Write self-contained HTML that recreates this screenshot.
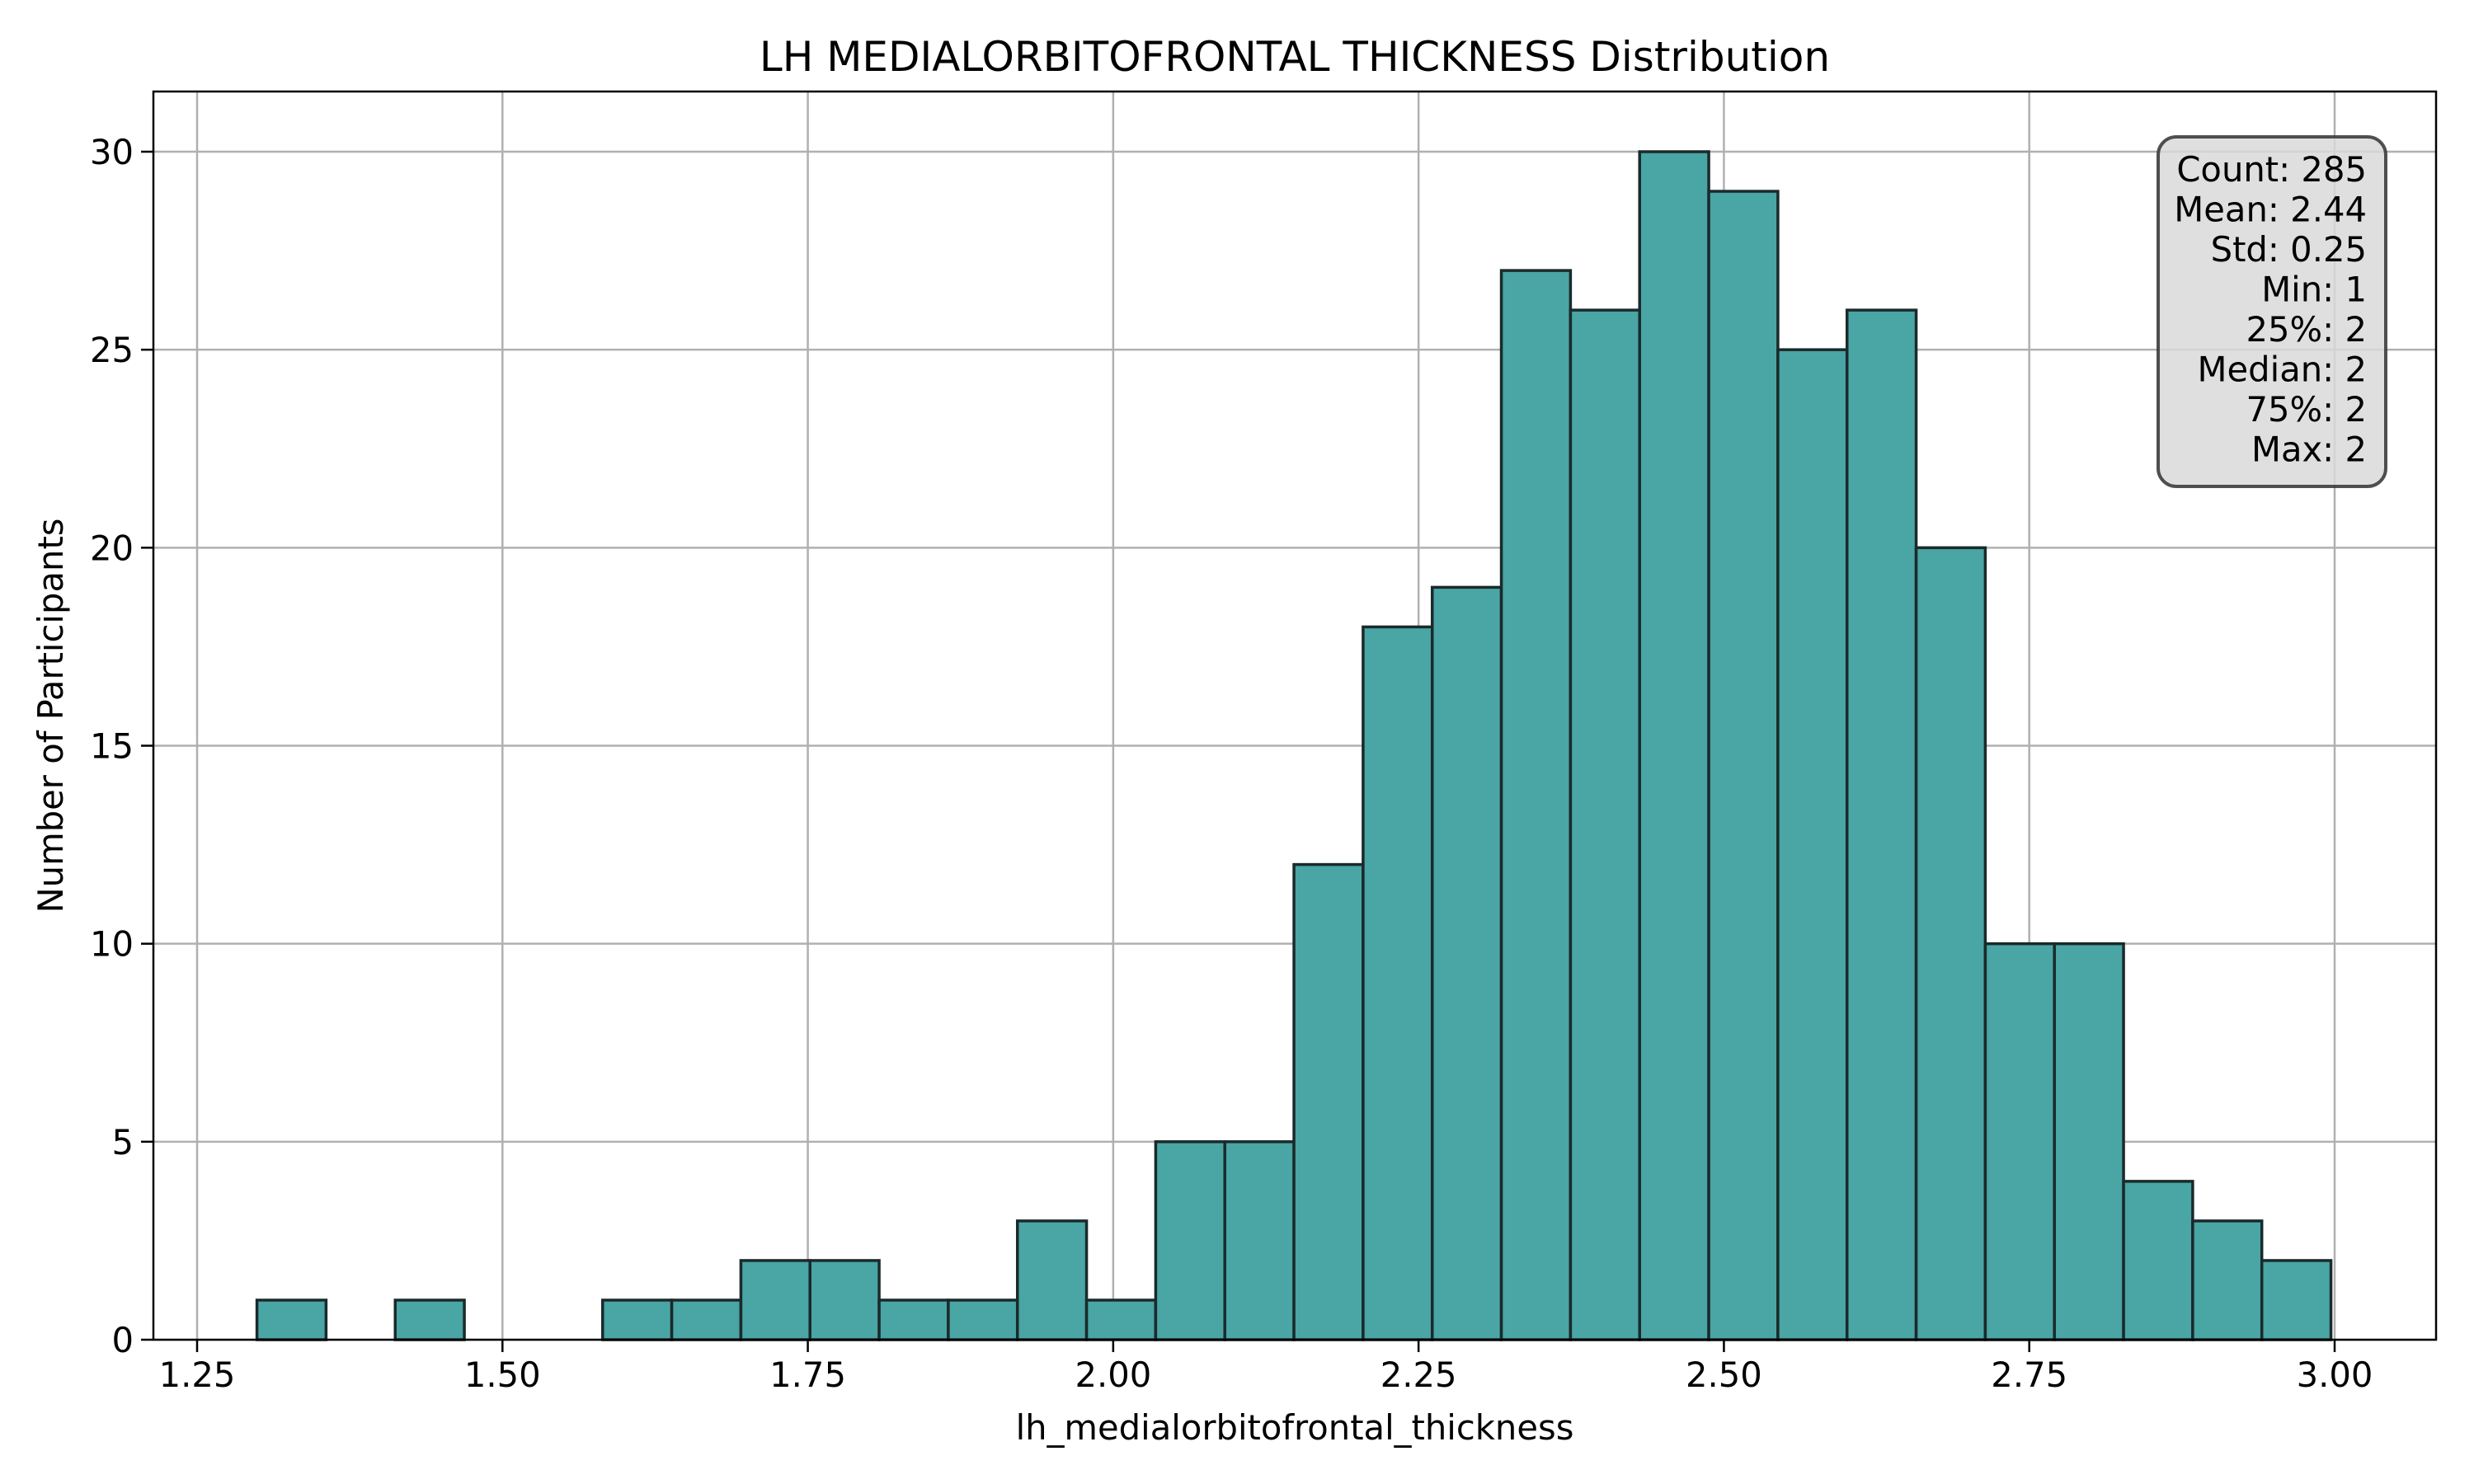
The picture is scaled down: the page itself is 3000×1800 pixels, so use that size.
<!DOCTYPE html>
<html><head><meta charset="utf-8"><style>
html,body{margin:0;padding:0;background:#fff}
svg{display:block;font-family:"DejaVu Sans","Liberation Sans",sans-serif}
</style></head><body>
<svg id="chart" width="3000" height="1800" viewBox="0 0 3000 1800">
<rect width="3000" height="1800" fill="#fff"/>
<g id="grid"></g>
<g id="bars"></g>
<rect x="186" y="111" width="2768" height="1514" fill="none" stroke="#000" stroke-width="2.5"/>
<g id="xticks"></g>
<g id="yticks"></g>
<text x="1570" y="86" text-anchor="middle" font-size="50">LH MEDIALORBITOFRONTAL THICKNESS Distribution</text>
<text x="1570" y="1746" text-anchor="middle" font-size="41.7">lh_medialorbitofrontal_thickness</text>
<text x="0" y="0" transform="translate(76,868) rotate(-90)" text-anchor="middle" font-size="41.7">Number of Participants</text>
<g>
<rect x="2617" y="166" width="276" height="424" rx="22" fill="#d9d9d9" fill-opacity="0.85" stroke="#333" stroke-opacity="0.85" stroke-width="4"/>
<g id="stats" font-size="41.7" text-anchor="end"></g>
</g>
</svg>
<script>
const counts = [1,0,1,0,0,1,1,2,2,1,1,3,1,5,5,12,18,19,27,26,30,29,25,26,20,10,10,4,3,2];
const binStart = 1.299;
const binEnd = 2.997;
const xTickValues = [1.25,1.5,1.75,2.0,2.25,2.5,2.75,3.0];
const xTickLabels = ["1.25","1.50","1.75","2.00","2.25","2.50","2.75","3.00"];
const yTickValues = [0,5,10,15,20,25,30];
const statsLines = ["Count: 285","Mean: 2.44","Std: 0.25","Min: 1","25%: 2","Median: 2","75%: 2","Max: 2"];

const NS = "http://www.w3.org/2000/svg";
const X = v => 239 + (v - 1.25) * (2831 - 239) / 1.75;
const Y = v => 1625 - v * (1625 - 184) / 30;
function mk(tag, attrs, parent){const e=document.createElementNS(NS,tag);for(const k in attrs)e.setAttribute(k,attrs[k]);parent.appendChild(e);return e;}
const grid=document.getElementById('grid'), bars=document.getElementById('bars');
const xt=document.getElementById('xticks'), yt=document.getElementById('yticks'), st=document.getElementById('stats');
xTickValues.forEach((v,i)=>{
  const g=mk('line',{x1:X(v),x2:X(v),y1:111,y2:1625,stroke:'#b0b0b0','stroke-width':2.5},grid);
  
  
  const t=mk('line',{x1:X(v),x2:X(v),y1:1625,y2:1640,stroke:'#000','stroke-width':2.5},xt);
  
  
  const l=mk('text',{x:X(v),y:1682,'text-anchor':'middle','font-size':41.7},xt);
  l.textContent=xTickLabels[i];
  
  
});
yTickValues.forEach(v=>{
  const g=mk('line',{x1:186,x2:2954,y1:Y(v),y2:Y(v),stroke:'#b0b0b0','stroke-width':2.5},grid);
  
  
  const t=mk('line',{x1:171,x2:186,y1:Y(v),y2:Y(v),stroke:'#000','stroke-width':2.5},yt);
  
  
  const l=mk('text',{x:162,y:Y(v)+15,'text-anchor':'end','font-size':41.7},yt);
  l.textContent=String(v);
  
  
});
const w=(binEnd-binStart)/counts.length;
counts.forEach((c,i)=>{
  const x0=X(binStart+i*w), x1=X(binStart+(i+1)*w);
  const r=mk('rect',{x:x0,y:Y(c),width:x1-x0,height:Y(0)-Y(c),fill:'#4aa5a5',stroke:'#1a2a2a','stroke-width':3.5},bars);
  
  
});
statsLines.forEach((s,i)=>{
  const t=mk('text',{x:2870,y:220+i*48.5},st);
  t.textContent=s;
  
  
});
</script>
</body></html>
